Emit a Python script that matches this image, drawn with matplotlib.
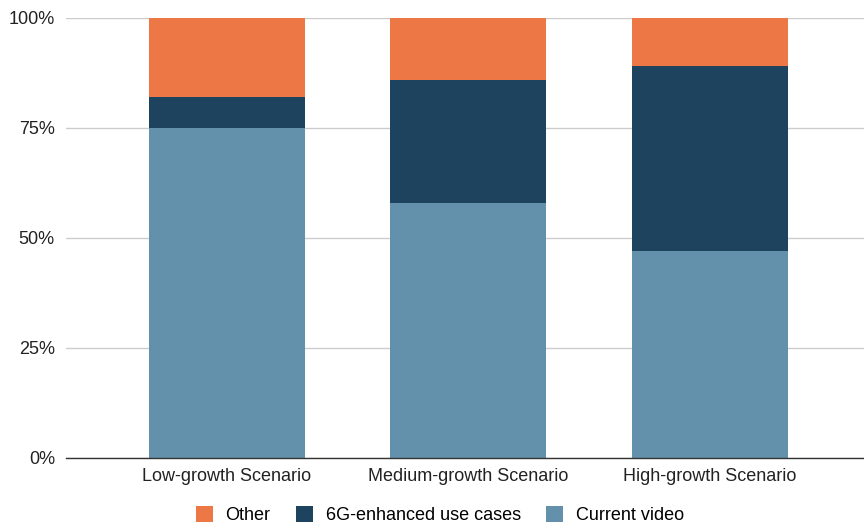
import numpy as np
import matplotlib.pyplot as plt
from matplotlib.ticker import PercentFormatter

# Share of traffic by scenario (percent)
scenarios = ["Low-growth Scenario", "Medium-growth Scenario", "High-growth Scenario"]
current_video = [75, 58, 47]
enhanced_6g = [7, 28, 42]
other = [18, 14, 11]

series = [
    ("Current video", current_video, "#6390AA"),
    ("6G-enhanced use cases", enhanced_6g, "#1D435E"),
    ("Other", other, "#ED7845"),
]

plt.rcParams["font.family"] = ["Liberation Sans", "DejaVu Sans"]

fig = plt.figure(figsize=(8.64, 5.27), dpi=100)
ax = fig.add_axes([0.0764, 0.131, 0.9236, 0.835])

x = np.arange(len(scenarios))
bottom = np.zeros(len(scenarios))
handles = {}
for name, vals, color in series:
    vals = np.array(vals, dtype=float)
    bars = ax.bar(x, vals, width=0.646, bottom=bottom, color=color,
                  edgecolor="none", zorder=3, label=name)
    handles[name] = bars
    bottom += vals

ax.set_xlim(-0.667, 2.64)
ax.set_ylim(0, 100)
ax.set_yticks([0, 25, 50, 75, 100])
ax.yaxis.set_major_formatter(PercentFormatter(decimals=0))
ax.set_xticks(x)
ax.set_xticklabels(scenarios)
ax.tick_params(axis="both", length=0, labelsize=13, colors="#222222")
ax.tick_params(axis="y", pad=8)
ax.tick_params(axis="x", pad=7)

ax.grid(axis="y", color="#cccccc", linewidth=1, zorder=0)
for side in ["top", "right", "left"]:
    ax.spines[side].set_visible(False)
ax.spines["bottom"].set_color("#333333")
ax.spines["bottom"].set_linewidth(1)
ax.spines["bottom"].set_zorder(4)

order = ["Other", "6G-enhanced use cases", "Current video"]
fig.legend([handles[n] for n in order], order, loc="center",
           bbox_to_anchor=(0.509, 0.022), ncol=3, frameon=False, fontsize=13,
           handlelength=0.95, handleheight=0.95, handletextpad=0.7,
           columnspacing=1.4)

fig.savefig("out.png", dpi=100)
